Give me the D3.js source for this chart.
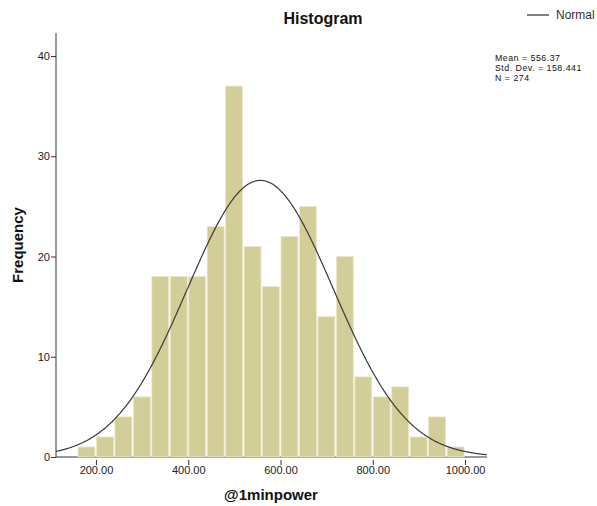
<!DOCTYPE html>
<html>
<head>
<meta charset="utf-8">
<script src="https://cdn.jsdelivr.net/npm/d3@7"></script>
<style>
  body { margin: 0; background: #fff; }
  svg { display: block; font-family: Arial, "Liberation Sans", sans-serif; }
</style>
</head>
<body>
<svg id="chart" width="597" height="506"></svg>
<script>
// Histogram bins (lower edges, width 40) and counts
const binStarts = [160, 200, 240, 280, 320, 360, 400, 440, 480, 520, 560, 600, 640, 680, 720, 760, 800, 840, 880, 920, 960];
const counts    = [1, 2, 4, 6, 18, 18, 18, 23, 37, 21, 17, 22, 25, 14, 20, 8, 6, 7, 2, 4, 1];
const binWidth = 40;

// Summary statistics shown in the panel and used for the normal curve
const statMean = 556.37;
const statSD = 158.441;
const statN = 274;

const xTicks = [200, 400, 600, 800, 1000];
const yTicks = [0, 10, 20, 30, 40];

const svg = d3.select("#chart");

const x = d3.scaleLinear().domain([113.4, 1047.6]).range([56, 487]);
const y = d3.scaleLinear().domain([0, 40]).range([457, 56]);

// Axes
const yAxis = d3.axisLeft(y).tickValues(yTicks).tickFormat(d3.format("d")).tickSize(5).tickSizeOuter(0);
const gy = svg.append("g").attr("transform", "translate(56,0)").call(yAxis);
gy.select(".domain").remove();
gy.append("line").attr("x1", 0).attr("x2", 0).attr("y1", 33).attr("y2", 457).attr("stroke", "#333");
gy.selectAll(".tick line").attr("stroke", "#333");
gy.selectAll(".tick text").attr("fill", "#222").style("font-size", "11px").style("font-family", "Arial, 'Liberation Sans', sans-serif").attr("x", -6);

const xAxis = d3.axisBottom(x).tickValues(xTicks).tickFormat(d3.format(".2f")).tickSize(5).tickSizeOuter(0);
const gx = svg.append("g").attr("transform", "translate(0,457)").call(xAxis);
gx.select(".domain").remove();
gx.insert("line", ":first-child").attr("x1", 56).attr("x2", 487).attr("y1", 0).attr("y2", 0).attr("stroke", "#333");
gx.selectAll(".tick line").attr("stroke", "#333").attr("y1", 3).attr("y2", 8);
gx.selectAll(".tick text").attr("fill", "#222").style("font-size", "11px").style("font-family", "Arial, 'Liberation Sans', sans-serif").attr("y", 9);

// Bars
svg.append("g").selectAll("rect")
  .data(binStarts.map((s, i) => ({ s, c: counts[i] })))
  .join("rect")
  .attr("x", d => x(d.s) + 0.5)
  .attr("width", d => x(d.s + binWidth) - x(d.s) - 1.5)
  .attr("y", d => y(d.c))
  .attr("height", d => y(0) - y(d.c))
  .attr("fill", "#d3ce97")
  .attr("stroke", "#ebe8cf")
  .attr("stroke-width", 0.8);

// Normal density scaled to counts
const scale = statN * binWidth / (statSD * Math.sqrt(2 * Math.PI));
const curvePts = d3.range(113.4, 1047.7, 2).map(v => [v, scale * Math.exp(-0.5 * ((v - statMean) / statSD) ** 2)]);
svg.append("path")
  .datum(curvePts)
  .attr("fill", "none")
  .attr("stroke", "#3a3a3a")
  .attr("stroke-width", 1.2)
  .attr("d", d3.line().x(d => x(d[0])).y(d => y(d[1])).curve(d3.curveBasis));

// Title and axis labels
svg.append("text").attr("x", 323).attr("y", 24).attr("text-anchor", "middle")
  .style("font-size", "16px").style("font-weight", "bold").attr("fill", "#111").text("Histogram");
svg.append("text").attr("x", 271).attr("y", 500).attr("text-anchor", "middle")
  .style("font-size", "15px").style("font-weight", "bold").attr("fill", "#111").text("@1minpower");
svg.append("text").attr("transform", "translate(23,245) rotate(-90)").attr("text-anchor", "middle")
  .style("font-size", "15px").style("font-weight", "bold").attr("fill", "#111").text("Frequency");

// Legend
svg.append("line").attr("x1", 527).attr("x2", 549).attr("y1", 15).attr("y2", 15).attr("stroke", "#555").attr("stroke-width", 1.5);
svg.append("text").attr("x", 556).attr("y", 19).style("font-size", "12px").attr("fill", "#333").text("Normal");

// Statistics panel
const stats = [`Mean = ${statMean}`, `Std. Dev. = ${statSD}`, `N = ${statN}`];
svg.append("g").selectAll("text").data(stats).join("text")
  .attr("x", 495).attr("y", (d, i) => 61 + i * 10)
  .style("font-size", "8.8px").style("letter-spacing", "0.5px").attr("fill", "#111").text(d => d);
</script>
</body>
</html>
